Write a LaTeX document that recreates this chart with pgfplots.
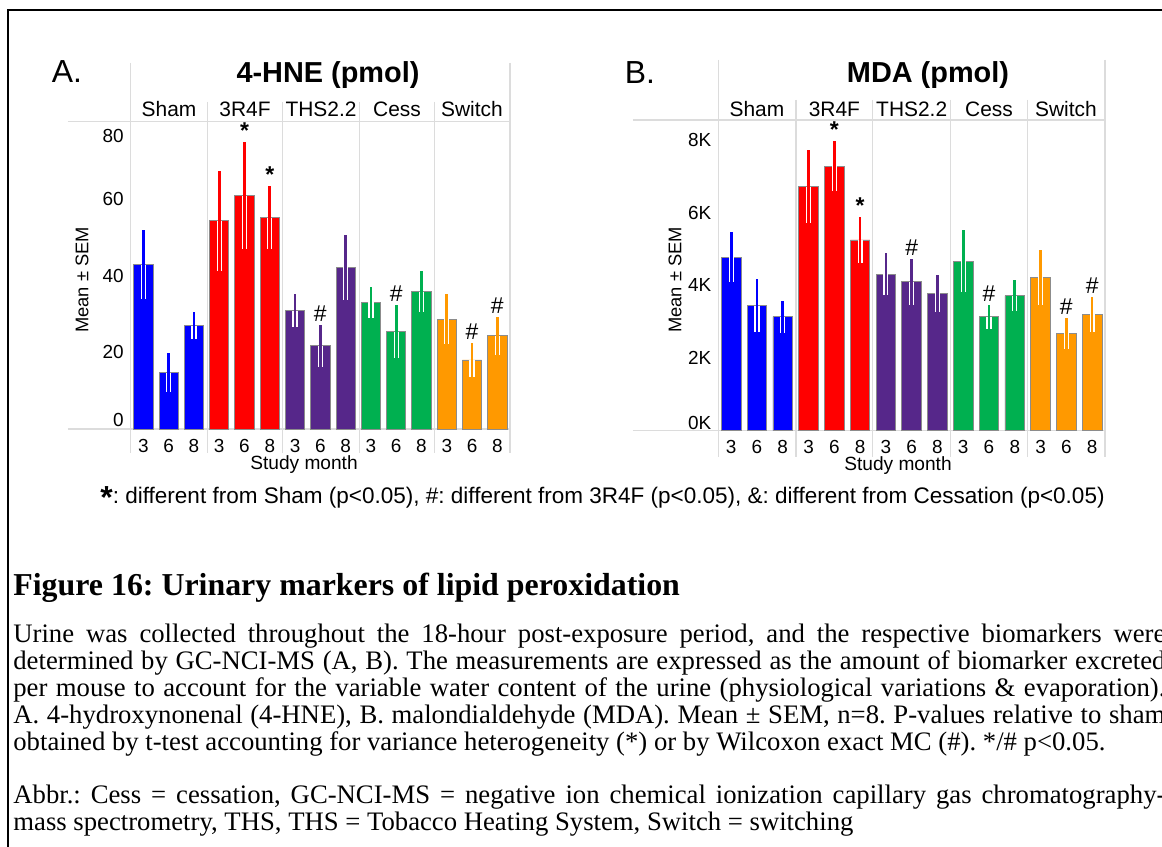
\documentclass[border=0pt]{standalone}
\usepackage{pgfplots}
\pgfplotsset{compat=1.18}
\usepackage{pgfplotstable}
\usepackage{fontspec}
\setmainfont{Liberation Serif}
\setsansfont{Liberation Sans}
\frenchspacing

\definecolor{cblue}{HTML}{0000FF}
\definecolor{cred}{HTML}{FF0000}
\definecolor{cpurple}{HTML}{56278A}
\definecolor{cgreen}{HTML}{00B050}
\definecolor{corange}{HTML}{FF9900}
\definecolor{sep}{HTML}{DCDCDC}

% mean and SEM; x = 0..14 -> Sham, 3R4F, THS2.2, Cess, Switch at months 3, 6, 8
\pgfplotstableread{
x  y     e
0  42.8  9.0
1  14.7  5.0
2  26.9  3.5
3  54.3  13.0
4  60.8  14.0
5  55.1  8.3
6  30.8  4.3
7  21.7  5.5
8  42.2  8.5
9  33.0  4.0
10 25.4  7.0
11 35.8  5.3
12 28.6  6.5
13 18.0  4.4
14 24.3  5.0
}\hne

\pgfplotstableread{
x  y     e
0  4770  690
1  3440  730
2  3140  440
3  6720  1000
4  7280  690
5  5250  640
6  4310  570
7  4100  630
8  3780  510
9  4670  850
10 3140  330
11 3720  430
12 4220  760
13 2680  430
14 3200  490
}\mda

\pgfplotsset{
  facet/.style={
    scale only axis, anchor=south west, clip=false,
    xmin=-0.5, xmax=14.5, ymin=0,
    axis line style={draw=none}, major tick length=0pt,
    xtick={0,...,14}, xticklabels={3,6,8,3,6,8,3,6,8,3,6,8,3,6,8},
    tick label style={font=\sffamily\fontsize{9.5}{11}\selectfont},
    xticklabel style={yshift=-1.5bp},
    bar width=0.76,
  },
  bars/.style={ybar, bar shift=0pt, fill=#1, draw=black!45, line width=0.4bp},
  nomark/.style={draw=none, mark=none, mark size=0pt, mark options={draw=none, fill=none}},
  semlow/.style={nomark,
    error bars/y dir=minus, error bars/y explicit, error bars/error mark=none,
    error bars/error bar style={draw=white, line width=2.6bp}},
  sem/.style={nomark,
    error bars/y dir=both, error bars/y explicit, error bars/error mark=none,
    error bars/error bar style={draw=#1, line width=1.3bp}},
  sig/.style={only marks, mark=none, nodes near coords={#1},
    every node near coord/.append style={font=\sffamily\fontsize{11.5}{12}\selectfont,
      anchor=south, inner sep=1.5bp, text=black}},
}

\newcommand{\jline}[1]{\makebox[576bp][s]{#1}}

\begin{document}
\begin{tikzpicture}
\path[use as bounding box] (0,0) rectangle (581bp,-423.5bp);
\clip (0,0) rectangle (581bp,-423.5bp);
\fill[white] (0,0) rectangle (581bp,-423.5bp);

\begin{scope}[x=0.5bp,y=-0.5bp]
  % frame
  \draw[line width=1.1bp] (8.3,847) -- (8.3,10.2) -- (1170,10.2);
  % panel A grid
  \draw[sep, line width=0.75bp] (68,121.7) -- (510,121.7);
  \draw[sep, line width=0.75bp] (68,429) -- (510,429);
  \draw[sep, line width=0.75bp] (130.7,63) -- (130.7,453) (510,63) -- (510,453);
  \foreach \xx in {207.3,282.7,359.3,434.3} \draw[sep, line width=0.75bp] (\xx,102) -- (\xx,453);
  % panel B grid
  \draw[sep, line width=0.75bp] (633,120) -- (1105,120);
  \draw[sep, line width=0.75bp] (633,430.7) -- (1105,430.7);
  \draw[sep, line width=0.75bp] (718.3,60) -- (718.3,457) (1105,60) -- (1105,457);
  \foreach \xx in {796,872.7,950.7,1027.3} \draw[sep, line width=0.75bp] (\xx,100) -- (\xx,457);
\end{scope}

% A. 4-HNE
\begin{axis}[facet, at={(65.35bp,-214.5bp)}, width=189.65bp, height=153.65bp,
  ymax=80.1, ytick={2.3,20,40,60,76.5}, yticklabels={0,20,40,60,80}]
  \addplot[bars=cblue, restrict x to domain=0:2] table[x=x,y=y] {\hne};
  \addplot[bars=cred, restrict x to domain=3:5] table[x=x,y=y] {\hne};
  \addplot[bars=cpurple, restrict x to domain=6:8] table[x=x,y=y] {\hne};
  \addplot[bars=cgreen, restrict x to domain=9:11] table[x=x,y=y] {\hne};
  \addplot[bars=corange, restrict x to domain=12:14] table[x=x,y=y] {\hne};
  \addplot[semlow] table[x=x,y=y,y error=e] {\hne};
  \addplot[restrict x to domain=0:2, sem=cblue] table[x=x,y=y,y error=e] {\hne};
  \addplot[restrict x to domain=3:5, sem=cred] table[x=x,y=y,y error=e] {\hne};
  \addplot[restrict x to domain=6:8, sem=cpurple] table[x=x,y=y,y error=e] {\hne};
  \addplot[restrict x to domain=9:11, sem=cgreen] table[x=x,y=y,y error=e] {\hne};
  \addplot[restrict x to domain=12:14, sem=corange] table[x=x,y=y,y error=e] {\hne};
  \addplot[sig={\bfseries *}] coordinates {(4,74.8) (5,63.4)};
  \addplot[sig=\#] coordinates {(7,27.2) (10,32.4) (13,22.4) (14,29.3)};
\end{axis}

% B. MDA
\begin{axis}[facet, at={(359.15bp,-215.35bp)}, width=193.35bp, height=155.35bp,
  ymax=8550, scaled y ticks=false,
  ytick={220,2000,4000,6000,8000}, yticklabels={0K,2K,4K,6K,8K}]
  \addplot[bars=cblue, restrict x to domain=0:2] table[x=x,y=y] {\mda};
  \addplot[bars=cred, restrict x to domain=3:5] table[x=x,y=y] {\mda};
  \addplot[bars=cpurple, restrict x to domain=6:8] table[x=x,y=y] {\mda};
  \addplot[bars=cgreen, restrict x to domain=9:11] table[x=x,y=y] {\mda};
  \addplot[bars=corange, restrict x to domain=12:14] table[x=x,y=y] {\mda};
  \addplot[semlow] table[x=x,y=y,y error=e] {\mda};
  \addplot[restrict x to domain=0:2, sem=cblue] table[x=x,y=y,y error=e] {\mda};
  \addplot[restrict x to domain=3:5, sem=cred] table[x=x,y=y,y error=e] {\mda};
  \addplot[restrict x to domain=6:8, sem=cpurple] table[x=x,y=y,y error=e] {\mda};
  \addplot[restrict x to domain=9:11, sem=cgreen] table[x=x,y=y,y error=e] {\mda};
  \addplot[restrict x to domain=12:14, sem=corange] table[x=x,y=y,y error=e] {\mda};
  \addplot[sig={\bfseries *}] coordinates {(4,7970) (5,5890)};
  \addplot[sig=\#] coordinates {(7,4730) (10,3470) (13,3110) (14,3690)};
\end{axis}

\begin{scope}[x=0.5bp,y=-0.5bp, font=\sffamily]
  % panel A labels
  \node[font=\sffamily\fontsize{16}{18}\selectfont] at (67,71.5) {A.};
  \node[font=\sffamily\bfseries\fontsize{14.5}{16}\selectfont] at (328,75) {4-HNE (pmol)};
  \foreach \xx/\lab in {169/Sham,245/3R4F,321/THS2.2,397/Cess,472/Switch}
    \node[font=\sffamily\fontsize{10.5}{12}\selectfont] at (\xx,109) {\lab};
  \node[font=\sffamily\fontsize{9.6}{11}\selectfont] at (304,465) {Study month};
  \node[rotate=90, font=\sffamily\fontsize{9.2}{11}\selectfont] at (82,280) {Mean ± SEM};
  % panel B labels
  \node[font=\sffamily\fontsize{16}{18}\selectfont] at (640,73) {B.};
  \node[font=\sffamily\bfseries\fontsize{14.5}{16}\selectfont] at (928,75) {MDA (pmol)};
  \foreach \xx/\lab in {757/Sham,834.4/3R4F,911.7/THS2.2,989/Cess,1066/Switch}
    \node[font=\sffamily\fontsize{10.5}{12}\selectfont] at (\xx,109) {\lab};
  \node[font=\sffamily\fontsize{9.6}{11}\selectfont] at (898,466) {Study month};
  \node[rotate=90, font=\sffamily\fontsize{9.2}{11}\selectfont] at (675,280) {Mean ± SEM};
  % significance key
  \node[anchor=base west, inner sep=0pt, font=\sffamily\fontsize{11.3}{13}\selectfont] at (100,504)
    {\raisebox{-0.35ex}{\bfseries\fontsize{16}{16}\selectfont *}: different from Sham (p<0.05), \#: different from 3R4F (p<0.05), \&: different from Cessation (p<0.05)};
  % caption
  \node[anchor=base west, inner sep=0pt, font=\rmfamily\bfseries\fontsize{16}{18}\selectfont] at (13,596)
    {Figure 16: Urinary markers of lipid peroxidation};
  \node[anchor=base west, inner sep=0pt] at (13,643) {\parbox[t]{580bp}{\rmfamily\fontsize{13.4}{13.5}\selectfont
    \jline{Urine was collected throughout the 18-hour post-exposure period, and the respective biomarkers were}\\
    \jline{determined by GC-NCI-MS (A, B). The measurements are expressed as the amount of biomarker excreted}\\
    \jline{per mouse to account for the variable water content of the urine (physiological variations \& evaporation).}\\
    \jline{A. 4-hydroxynonenal (4-HNE), B. malondialdehyde (MDA). Mean ± SEM, n=8. P-values relative to sham}\\
    obtained by t-test accounting for variance heterogeneity (*) or by Wilcoxon exact MC (\#). */\# p<0.05.}};
  \node[anchor=base west, inner sep=0pt] at (13,804) {\parbox[t]{580bp}{\rmfamily\fontsize{13.4}{13.5}\selectfont
    \jline{Abbr.: Cess = cessation, GC-NCI-MS = negative ion chemical ionization capillary gas chromatography-}\\
    mass spectrometry, THS, THS = Tobacco Heating System, Switch = switching}};
\end{scope}
\end{tikzpicture}
\end{document}
